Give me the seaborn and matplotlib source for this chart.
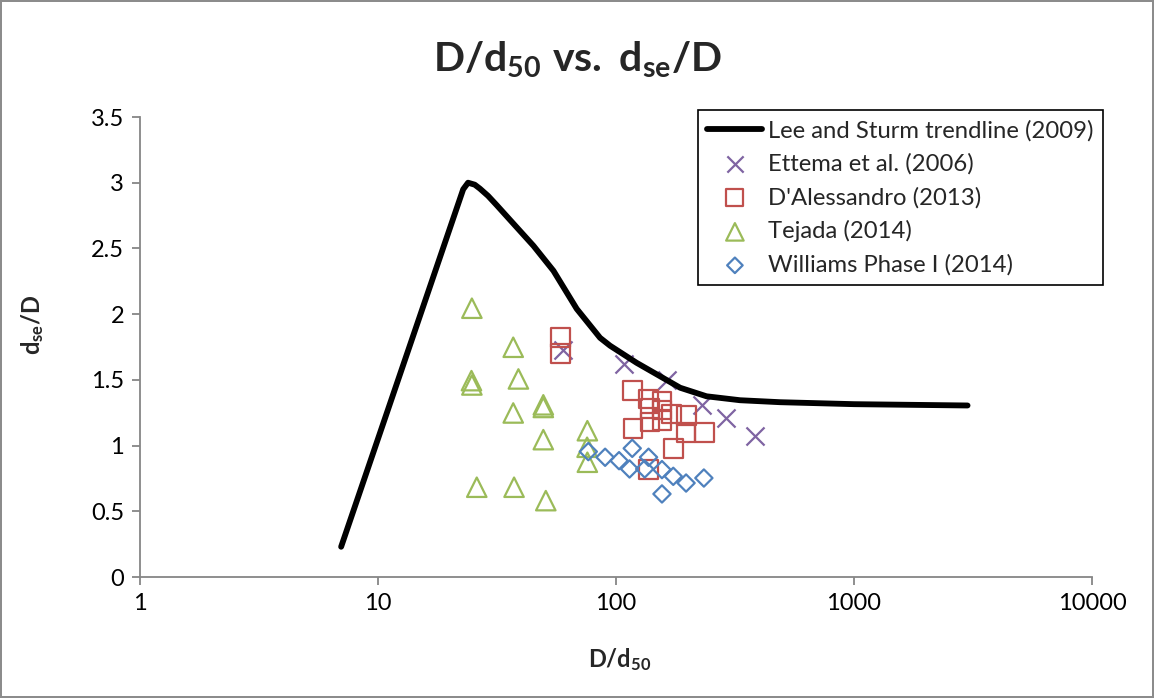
import matplotlib
matplotlib.use("Agg")
import matplotlib.pyplot as plt
import seaborn as sns
import pandas as pd

# ---- data ----
trend_x = [7, 22.8, 23.9, 25.5, 26.8, 29.0, 31.5, 38.3, 45, 54.6, 68.4, 85.7, 94.4, 122, 186, 240, 332, 489, 1000, 3000]
trend_y = [0.23, 2.95, 3.0, 2.985, 2.955, 2.90, 2.83, 2.66, 2.52, 2.33, 2.04, 1.82, 1.76, 1.63, 1.44, 1.375, 1.345, 1.33, 1.315, 1.305]

ettema_x = [60, 108, 163, 229, 290, 385]
ettema_y = [1.73, 1.62, 1.50, 1.31, 1.21, 1.07]

dal_x = [58.6, 58.6, 117, 137, 156, 139, 156, 171, 198, 118, 139, 156, 197, 236, 174, 137]
dal_y = [1.82, 1.70, 1.42, 1.355, 1.34, 1.28, 1.27, 1.24, 1.23, 1.13, 1.18, 1.19, 1.10, 1.10, 0.98, 0.82]

tej_x = [24.8, 37.0, 24.7, 24.8, 38.9, 49.5, 49.5, 37.0, 49.5, 75.8, 75.6, 75.8, 26.0, 37.3, 50.7]
tej_y = [2.045, 1.748, 1.494, 1.461, 1.507, 1.31, 1.29, 1.248, 1.045, 1.113, 0.987, 0.873, 0.683, 0.683, 0.581]

wil_x = [76.5, 90, 103, 117, 114, 137, 132, 156, 174, 197, 234, 156]
wil_y = [0.954, 0.911, 0.885, 0.979, 0.822, 0.911, 0.822, 0.817, 0.766, 0.715, 0.753, 0.632]

x_ticks = [1, 10, 100, 1000, 10000]
x_tick_labels = ["1", "10", "100", "1000", "10000"]
y_ticks = [0, 0.5, 1, 1.5, 2, 2.5, 3, 3.5]
y_tick_labels = ["0", "0.5", "1", "1.5", "2", "2.5", "3", "3.5"]

labels = ["Lee and Sturm trendline (2009)", "Ettema et al. (2006)", "D'Alessandro (2013)",
          "Tejada (2014)", "Williams Phase I (2014)"]

# ---- style ----
sns.set_theme(style="white")
plt.rcParams["font.family"] = ["Lato", "DejaVu Sans"]
plt.rcParams["mathtext.fontset"] = "custom"
plt.rcParams["mathtext.rm"] = "Lato"
plt.rcParams["mathtext.bf"] = "Lato:bold"
plt.rcParams["mathtext.it"] = "Lato:italic"

PURPLE = "#7F64A2"
RED = "#C0504D"
GREEN = "#9BBB59"
BLUE = "#4F81BD"
AXISGRAY = "#868686"

fig = plt.figure(figsize=(11.54, 6.98), dpi=100)
fig.patch.set_edgecolor("#8C8C8C")
fig.patch.set_linewidth(1.5)
ax = fig.add_axes([140 / 1154, 1 - 577 / 698, (1092 - 140) / 1154, (577 - 117) / 698])

trend = pd.DataFrame({"x": trend_x, "y": trend_y})
sns.lineplot(data=trend, x="x", y="y", ax=ax, color="black", linewidth=4.2,
             sort=False, estimator=None, label=labels[0], solid_capstyle="round",
             solid_joinstyle="round")

ett = pd.DataFrame({"x": ettema_x, "y": ettema_y})
sns.scatterplot(data=ett, x="x", y="y", ax=ax, marker="x", s=13 ** 2, color=PURPLE,
                linewidth=1.6, label=labels[1])

dal = pd.DataFrame({"x": dal_x, "y": dal_y})
sns.scatterplot(data=dal, x="x", y="y", ax=ax, marker="s", s=13.5 ** 2, facecolor="none",
                edgecolor=RED, linewidth=1.6, label=labels[2])

tej = pd.DataFrame({"x": tej_x, "y": tej_y})
sns.scatterplot(data=tej, x="x", y="y", ax=ax, marker="^", s=14 ** 2, facecolor="none",
                edgecolor=GREEN, linewidth=1.6, label=labels[3])

wil = pd.DataFrame({"x": wil_x, "y": wil_y})
sns.scatterplot(data=wil, x="x", y="y", ax=ax, marker="D", s=8.8 ** 2, facecolor="none",
                edgecolor=BLUE, linewidth=1.6, label=labels[4])

ax.set_xscale("log")
ax.set_xlim(1, 10000)
ax.set_ylim(0, 3.5)
ax.set_xticks(x_ticks)
ax.set_xticklabels(x_tick_labels)
ax.set_yticks(y_ticks)
ax.set_yticklabels(y_tick_labels)
ax.xaxis.set_minor_locator(matplotlib.ticker.NullLocator())
ax.tick_params(axis="both", which="major", direction="out", length=5.5, width=1.3,
               color=AXISGRAY, labelsize=17, labelcolor="black", pad=6, left=True, bottom=True)
for side in ["top", "right"]:
    ax.spines[side].set_visible(False)
for side in ["left", "bottom"]:
    ax.spines[side].set_color(AXISGRAY)
    ax.spines[side].set_linewidth(1.3)

ax.set_xlabel(r"$\mathbf{D/d_{50}}$", fontsize=17)
ax.set_ylabel(r"$\mathbf{d_{se}/D}$", fontsize=17)
ax.xaxis.set_label_coords(0.504, -0.18)
ax.xaxis.label.set_va("center")
ax.yaxis.set_label_coords(-0.113, 0.548)
ax.yaxis.label.set_va("center")

fig.suptitle(r"$\mathbf{D/d_{50}\ vs.\ d_{se}/D}$", x=0.5, y=1 - 60 / 698, va="center",
             fontsize=29.5)

leg = ax.legend(loc="upper left", bbox_to_anchor=(0.586, 1.015), fontsize=17.2,
                frameon=True, fancybox=False, edgecolor="black", framealpha=1,
                handlelength=2.3, handletextpad=0.25, labelspacing=0.5, borderpad=0.4,
                borderaxespad=0, markerscale=0.9)
leg.get_frame().set_linewidth(1.2)

fig.savefig("out.png", dpi=100)
